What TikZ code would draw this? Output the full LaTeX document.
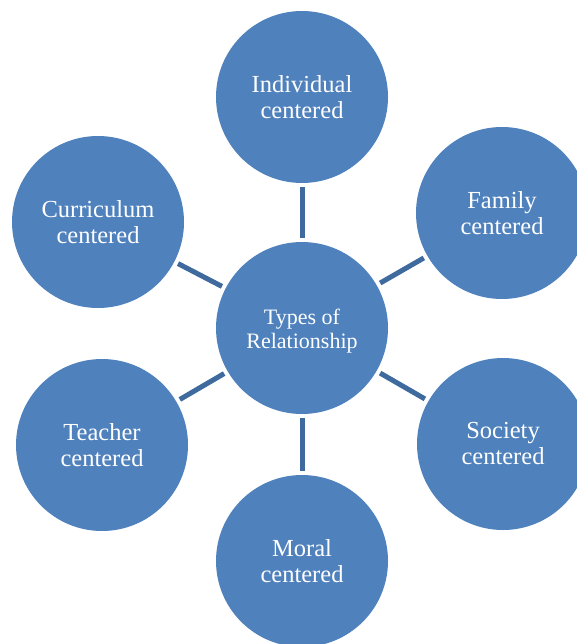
\documentclass[tikz,border=0pt]{standalone}
\usepackage{fontspec}
\setmainfont{Liberation Serif}
\definecolor{circfill}{HTML}{4F81BD}
\definecolor{linkcol}{HTML}{3E6A9E}
\begin{document}
\begin{tikzpicture}[x=1pt,y=-1pt,
  outer/.style={circle,fill=circfill,minimum size=172pt,inner sep=0pt,text=white,
    align=center,font=\fontsize{24.5}{26}\selectfont},
  hub/.style={outer,font=\fontsize{22}{23.5}\selectfont},
  link/.style={draw=linkcol,line width=5pt,shorten <=4pt,shorten >=4pt}]
\useasboundingbox (0,0) rectangle (577,644);
\clip (0,0) rectangle (577,644);
\node[hub] (c) at (302,328) {};
\node[text=white,align=center,font=\fontsize{22}{23.5}\selectfont] (ct) at (302,331) {Types of\\Relationship};
\node[outer] (ind) at (302,97) {Individual\\centered};
\node[outer] (fam) at (502,213) {Family\\centered};
\node[outer] (soc) at (503,444) {Society\\centered};
\node[outer] (mor) at (302,561) {Moral\\centered};
\node[outer] (tea) at (102,445) {Teacher\\centered};
\node[outer] (cur) at (98,222) {Curriculum\\centered};
\foreach \n in {ind,fam,soc,mor,tea,cur}
  \draw[link] (c) -- (\n);
\end{tikzpicture}
\end{document}
